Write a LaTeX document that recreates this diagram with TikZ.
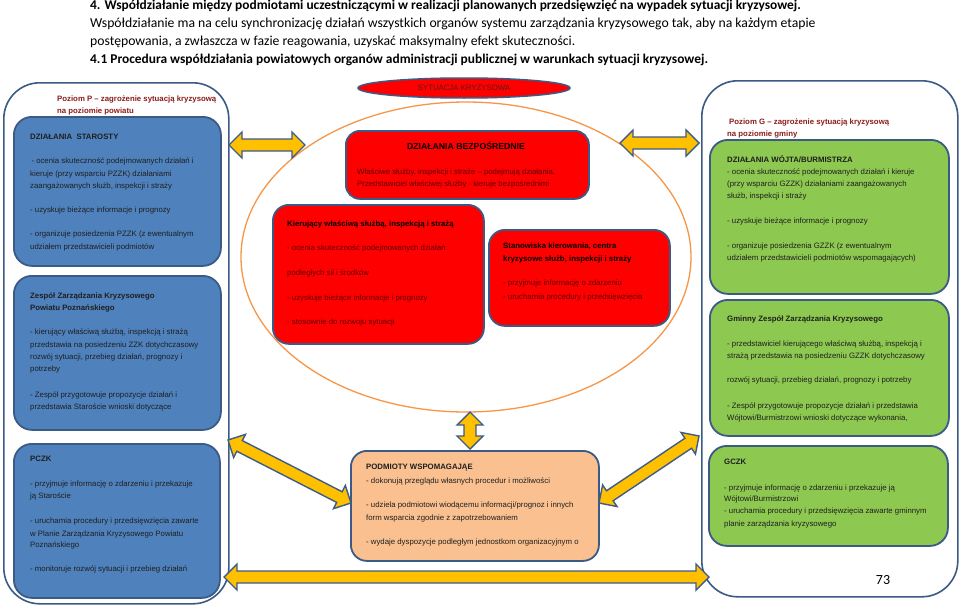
\documentclass[tikz,border=0pt]{standalone}
\usepackage{fontspec}
\setmainfont{Liberation Sans}
\newfontfamily\calibri{Carlito}
\usetikzlibrary{shapes.geometric,calc}

\definecolor{bluefill}{HTML}{4F81BD}
\definecolor{boxline}{HTML}{3B5A85}
\definecolor{greenfill}{HTML}{8DC851}
\definecolor{redfill}{HTML}{FF0000}
\definecolor{peach}{HTML}{FAC090}
\definecolor{arrowfill}{HTML}{FFC000}
\definecolor{arrowline}{HTML}{3D5C88}
\definecolor{orangeline}{HTML}{F79646}
\definecolor{titlered}{HTML}{8B1C1C}
\definecolor{redtext}{HTML}{5C0000}
\definecolor{crisistext}{HTML}{5E1818}

\tikzset{
  container/.style={draw=boxline, line width=1.6pt, fill=white, rounded corners=36pt, inner sep=0pt, anchor=north west},
  box/.style={draw=boxline, line width=1.8pt, rounded corners=18pt, inner sep=0pt, anchor=north west},
  txt/.style={anchor=base west, inner sep=0pt, font=\fontsize{7.8}{9}\selectfont, text=black!88},
  txtr/.style={txt, text=redtext},
  ttl/.style={txt, text=titlered, font=\fontsize{7.8}{9}\selectfont\bfseries},
  hdr/.style={anchor=base west, inner sep=0pt, font=\calibri\fontsize{13.7}{15}\selectfont},
  hdrb/.style={anchor=base west, inner sep=0pt, font=\calibri\fontsize{13.4}{15}\selectfont\bfseries},
  biarr/.style={draw=arrowline, fill=arrowfill, line width=1.4pt, line join=miter},
}

% double-headed block arrow between two named points
\newcommand\biarrow[3]{%
  \coordinate (#1pa) at ($(#2)!13pt!(#3)$);
  \coordinate (#1pb) at ($(#3)!13pt!(#2)$);
  \draw[biarr] (#2)
    -- ($(#1pa)!13pt!90:(#3)$) -- ($(#1pa)!6pt!90:(#3)$)
    -- ($(#1pb)!6pt!-90:(#2)$) -- ($(#1pb)!13pt!-90:(#2)$)
    -- (#3)
    -- ($(#1pb)!13pt!90:(#2)$) -- ($(#1pb)!6pt!90:(#2)$)
    -- ($(#1pa)!6pt!-90:(#3)$) -- ($(#1pa)!13pt!-90:(#3)$)
    -- cycle;}

\begin{document}
\begin{tikzpicture}[x=1pt,y=-1pt]
\useasboundingbox (0,0) rectangle (960,610);
\fill[white] (0,0) rectangle (960,610);

% header
\node[hdrb] (h1) at (90,10) {4. Współdziałanie między podmiotami uczestniczącymi w realizacji planowanych przedsięwzięć na wypadek sytuacji kryzysowej.};
\node[hdr] (h2) at (90,27.5) {Współdziałanie ma na celu synchronizację działań wszystkich organów systemu zarządzania kryzysowego tak, aby na każdym etapie};
\node[hdr] (h3) at (90,45.5) {postępowania, a zwłaszcza w fazie reagowania, uzyskać maksymalny efekt skuteczności.};
\node[hdrb] (h4) at (90,63.5) {4.1 Procedura współdziałania powiatowych organów administracji publicznej w warunkach sytuacji kryzysowej.};

% containers
\node[container, minimum width=225pt, minimum height=521pt] (leftC) at (3,82) {};
\node[container, minimum width=256pt, minimum height=516pt] (rightC) at (701,80) {};

% crisis circle
\node[draw=orangeline, line width=1.3pt, ellipse, minimum width=450pt, minimum height=310pt, inner sep=0pt] (circ) at (466,257) {};

% boxes
\node[box, fill=bluefill, minimum width=207pt, minimum height=149pt] (starosta) at (13,116) {};
\node[box, fill=bluefill, minimum width=207pt, minimum height=154pt] (zespol) at (13,275) {};
\node[box, fill=bluefill, minimum width=206pt, minimum height=154pt] (pczk) at (13,443) {};
\node[box, fill=redfill, rounded corners=14pt, minimum width=243pt, minimum height=68pt] (bezp) at (345,130) {};
\node[box, fill=redfill, rounded corners=16pt, minimum width=211pt, minimum height=139pt] (kier) at (272,204) {};
\node[box, fill=redfill, rounded corners=16pt, minimum width=181pt, minimum height=96pt] (stan) at (488,229) {};
\node[box, fill=peach, rounded corners=16pt, minimum width=248pt, minimum height=110pt] (podm) at (350,450) {};
\node[box, fill=greenfill, minimum width=239pt, minimum height=154pt] (wojt) at (709,139) {};
\node[box, fill=greenfill, minimum width=239pt, minimum height=136pt] (gzzk) at (709,299) {};
\node[box, fill=greenfill, minimum width=239pt, minimum height=100pt] (gczk) at (708,445) {};

% crisis ellipse
\node[ellipse, draw=boxline, line width=1.5pt, fill=redfill, minimum width=212pt, minimum height=20pt, inner sep=0pt,
  font=\fontsize{7.8}{9}\selectfont, text=crisistext] (syt) at (464,88) {SYTUACJA KRYZYSOWA};

% left texts
\node[ttl] (pp1) at (57,101) {Poziom P – zagrożenie sytuacją kryzysową};
\node[ttl] (pp2) at (57,113) {na poziomie powiatu};
\foreach \ly/\lt [count=\i] in {
  139/{\textbf{DZIAŁANIA~~STAROSTY}},
  163/{\,- ocenia skuteczność podejmowanych działań i},
  176/{kieruje (przy wsparciu PZZK) działaniami},
  188/{zaangażowanych służb, inspekcji i straży},
  212/{- uzyskuje bieżące informacje i prognozy},
  236/{- organizuje posiedzenia PZZK (z ewentualnym},
  249/{udziałem przedstawicieli podmiotów}}
  \node[txt] (st\i) at (30,\ly) {\lt};
\foreach \ly/\lt [count=\i] in {
  298/{\textbf{Zespół Zarządzania Kryzysowego}},
  310/{\textbf{Powiatu Poznańskiego}},
  334/{- kierujący właściwą służbą, inspekcją i strażą},
  347/{przedstawia na posiedzeniu ZZK dotychczasowy},
  359/{rozwój sytuacji, przebieg działań, prognozy i},
  371/{potrzeby},
  397/{- Zespół przygotowuje propozycje działań i},
  409/{przedstawia Staroście wnioski dotyczące}}
  \node[txt] (ze\i) at (30,\ly) {\lt};
\foreach \ly/\lt [count=\i] in {
  461/{\textbf{PCZK}},
  486/{- przyjmuje informację o zdarzeniu i przekazuje},
  498/{ją Staroście},
  523/{- uruchamia procedury i przedsięwzięcia zawarte},
  536/{w Planie Zarządzania Kryzysowego Powiatu},
  547/{Poznańskiego},
  571/{- monitoruje rozwój sytuacji i przebieg działań}}
  \node[txt] (pc\i) at (30,\ly) {\lt};

% middle texts
\node[txt, anchor=base, font=\fontsize{8.7}{10}\selectfont\bfseries, text=black] (bz0) at (466,149.5) {DZIAŁANIA BEZPOŚREDNIE};
\node[txtr] (bz1) at (357,174) {Właściwe służby, inspekcji i straże – podejmują działania.};
\node[txtr] (bz2) at (357,186) {Przedstawiciel właściwej służby - kieruje bezpośrednimi};
\node[txt, text=black] (ki0) at (287,226) {\textbf{Kierujący właściwą służbą, inspekcją i strażą}};
\foreach \ly/\lt [count=\i] in {
  250/{- ocenia skuteczność podejmowanych działań},
  275/{podległych sił i środków},
  300/{- uzyskuje bieżące informacje i prognozy},
  324/{- stosownie do rozwoju sytuacji}}
  \node[txtr] (ki\i) at (287,\ly) {\lt};
\node[txt, text=black] (sn1) at (503,248) {\textbf{Stanowiska kierowania, centra}};
\node[txt, text=black] (sn2) at (503,261) {\textbf{kryzysowe służb, inspekcji i straży}};
\node[txtr] (sn3) at (503,285) {- przyjmuje informację o zdarzeniu};
\node[txtr] (sn4) at (503,299) {- uruchamia procedury i przedsięwzięcia};
\foreach \ly/\lt [count=\i] in {
  469/{\textbf{PODMIOTY WSPOMAGAJĄE}},
  483/{- dokonują przeglądu własnych procedur i możliwości},
  507/{- udziela podmiotowi wiodącemu informacji/prognoz i innych},
  520/{form wsparcia zgodnie z zapotrzebowaniem},
  544/{- wydaje dyspozycje podległym jednostkom organizacyjnym o}}
  \node[txt] (pw\i) at (366,\ly) {\lt};

% right texts
\node[ttl] (pg1) at (729,124) {Poziom G – zagrożenie sytuacją kryzysową};
\node[ttl] (pg2) at (727,136) {na poziomie gminy};
\foreach \ly/\lt [count=\i] in {
  162/{\textbf{DZIAŁANIA WÓJTA/BURMISTRZA}},
  174/{- ocenia skuteczność podejmowanych działań i kieruje},
  186/{(przy wsparciu GZZK) działaniami zaangażowanych},
  198/{służb, inspekcji i straży},
  223/{- uzyskuje bieżące informacje i prognozy},
  248/{- organizuje posiedzenia GZZK (z ewentualnym},
  260/{udziałem przedstawicieli podmiotów wspomagających)}}
  \node[txt] (wo\i) at (727,\ly) {\lt};
\foreach \ly/\lt [count=\i] in {
  321/{\textbf{Gminny Zespół Zarządzania Kryzysowego}},
  346/{- przedstawiciel kierującego właściwą służbą, inspekcją i},
  358/{strażą przedstawia na posiedzeniu GZZK dotychczasowy},
  382/{rozwój sytuacji, przebieg działań, prognozy i potrzeby},
  408/{- Zespół przygotowuje propozycje działań i przedstawia},
  420/{Wójtowi/Burmistrzowi wnioski dotyczące wykonania,}}
  \node[txt] (gz\i) at (727,\ly) {\lt};
\foreach \ly/\lt [count=\i] in {
  464/{\textbf{GCZK}},
  490/{- przyjmuje informację o zdarzeniu i przekazuje ją},
  501/{Wójtowi/Burmistrzowi},
  513/{- uruchamia procedury i przedsięwzięcia zawarte gminnym},
  526/{planie zarządzania kryzysowego}}
  \node[txt] (gc\i) at (724,\ly) {\lt};

\node[inner sep=0pt, font=\calibri\fontsize{14}{16}\selectfont] (pgnum) at (883,580) {73};

% arrow end points
\coordinate (a1l) at (229,145); \coordinate (a1r) at (305,145);
\coordinate (a2l) at (620,143); \coordinate (a2r) at (699,143);
\coordinate (a3t) at (470,412); \coordinate (a3b) at (470,449);
\coordinate (a4t) at (228,440); \coordinate (a4b) at (351,503);
\coordinate (a5b) at (599,503); \coordinate (a5t) at (699,436);
\coordinate (a6l) at (224,577); \coordinate (a6r) at (709,577);
\biarrow{ar1}{a1l}{a1r}
\biarrow{ar2}{a2l}{a2r}
\biarrow{ar3}{a3t}{a3b}
\biarrow{ar4}{a4t}{a4b}
\biarrow{ar5}{a5b}{a5t}
\biarrow{ar6}{a6l}{a6r}
\end{tikzpicture}
\end{document}
